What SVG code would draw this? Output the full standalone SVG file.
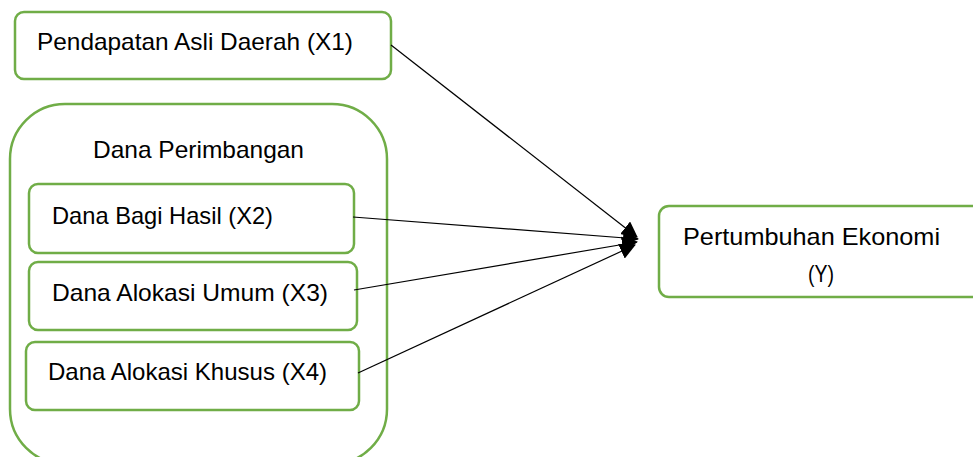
<svg xmlns="http://www.w3.org/2000/svg" width="973" height="457" viewBox="0 0 973 457">
<style>
.box{fill:#fff;stroke:#70AD47;stroke-width:2.5}
.t{font-family:"Liberation Sans",Arial,sans-serif;font-size:24px;fill:#000}
.c{stroke:#000;stroke-width:1.2;fill:none;marker-end:url(#ah)}
</style>
<defs>
<marker id="ah" markerUnits="userSpaceOnUse" markerWidth="18" markerHeight="16" refX="15" refY="8" orient="auto">
<path d="M0,0 L16,8 L0,16 Z" fill="#000"/>
</marker>
</defs>
<rect width="973" height="457" fill="#fff"/>
<g id="x1">
<rect class="box" x="15" y="12" width="376" height="67" rx="9"/>
<text class="t" x="37" y="50" textLength="316" lengthAdjust="spacingAndGlyphs">Pendapatan Asli Daerah (X1)</text>
</g>
<g id="dana-perimbangan">
<rect class="box" x="10" y="104" width="377" height="360" rx="55"/>
<text class="t" x="93" y="158" textLength="211" lengthAdjust="spacingAndGlyphs">Dana Perimbangan</text>
</g>
<g id="x2">
<rect class="box" x="29" y="184" width="325" height="69" rx="9"/>
<text class="t" x="52" y="224" textLength="221" lengthAdjust="spacingAndGlyphs">Dana Bagi Hasil (X2)</text>
</g>
<g id="x3">
<rect class="box" x="29" y="262" width="328" height="68" rx="9"/>
<text class="t" x="52" y="301" textLength="276" lengthAdjust="spacingAndGlyphs">Dana Alokasi Umum (X3)</text>
</g>
<g id="x4">
<rect class="box" x="26" y="342" width="333" height="68" rx="9"/>
<text class="t" x="48" y="380" textLength="279" lengthAdjust="spacingAndGlyphs">Dana Alokasi Khusus (X4)</text>
</g>
<g id="y">
<rect class="box" x="659" y="206" width="330" height="91" rx="10"/>
<text class="t" x="683" y="245" textLength="257" lengthAdjust="spacingAndGlyphs">Pertumbuhan Ekonomi</text>
<text class="t" x="808" y="282" textLength="26" lengthAdjust="spacingAndGlyphs">(Y)</text>
</g>
<g id="connectors">
<line class="c" x1="391" y1="45" x2="637" y2="237"/>
<line class="c" x1="353" y1="217" x2="638" y2="239"/>
<line class="c" x1="354" y1="290" x2="637" y2="242"/>
<line class="c" x1="358" y1="373" x2="635" y2="245"/>
</g>
</svg>
